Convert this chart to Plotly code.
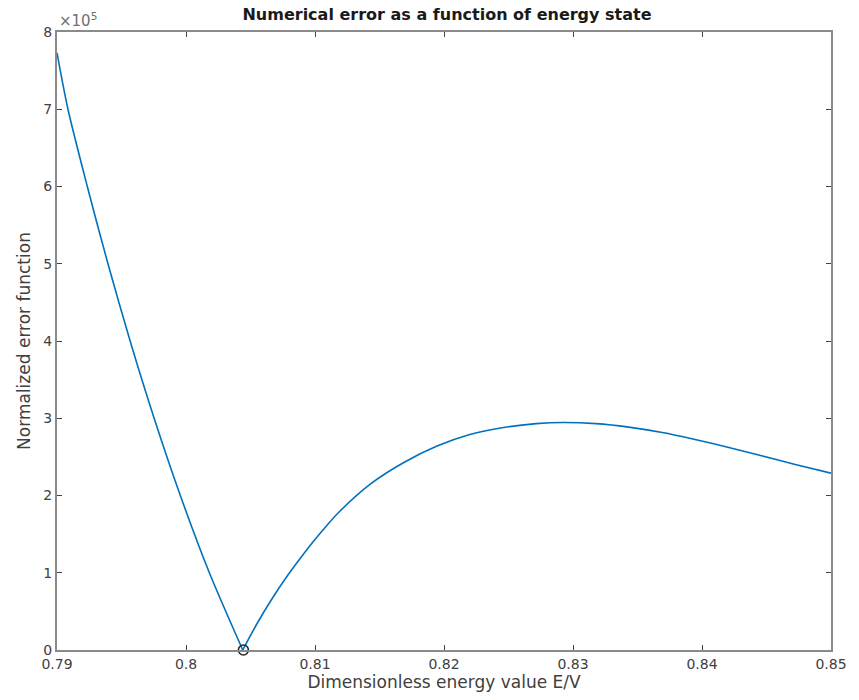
import plotly.graph_objects as go

# Left branch (falling) : energy E/V and normalized error in units of 1e5
energy_left = [0.7900, 0.79085, 0.79235, 0.79395, 0.79567, 0.79753,
               0.79956, 0.80181, 0.80440]
error_left = [7.73, 7.00, 6.00, 5.00, 4.00, 3.00, 2.00, 1.00, 0.00]

# Right branch (rising then falling)
energy_right = [0.80440, 0.80550, 0.80662, 0.80790, 0.80923, 0.81050,
                0.81177, 0.81431, 0.81692,
                0.81946, 0.82200, 0.82462, 0.82715, 0.82923, 0.83177,
                0.83431, 0.83692, 0.83946, 0.84200, 0.84462, 0.84715, 0.85000]
error_right = [0.00, 0.34, 0.65, 0.97, 1.27, 1.53, 1.77, 2.15, 2.43,
               2.64, 2.79, 2.88, 2.93, 2.945, 2.93, 2.885, 2.815, 2.725,
               2.625, 2.515, 2.405, 2.29]

min_energy = [0.80445]
min_error = [0.0]

x_ticks = [0.79, 0.80, 0.81, 0.82, 0.83, 0.84, 0.85]
x_ticktext = ["0.79", "0.8", "0.81", "0.82", "0.83", "0.84", "0.85"]
y_ticks = [0, 1, 2, 3, 4, 5, 6, 7, 8]
y_ticktext = [str(v) for v in y_ticks]

FONT = "DejaVu Sans"
TXT = "#404040"
LINE = dict(color="#0072BD", width=1.6, shape="spline", smoothing=0.8)

fig = go.Figure()
fig.add_trace(go.Scatter(x=energy_left, y=error_left, mode="lines",
                         line=LINE, showlegend=False, hoverinfo="skip"))
fig.add_trace(go.Scatter(x=energy_right, y=error_right, mode="lines",
                         line=LINE, showlegend=False, hoverinfo="skip"))
fig.add_trace(go.Scatter(x=min_energy, y=min_error, mode="markers",
                         marker=dict(symbol="circle-open", size=10,
                                     color="#262626", line=dict(width=1.6)),
                         showlegend=False, cliponaxis=False))

axis_common = dict(showline=True, mirror="ticks", linecolor="#8a8a8a",
                   linewidth=2, ticks="inside", ticklen=5, tickwidth=1,
                   tickcolor="#444444", showgrid=False, zeroline=False,
                   tickfont=dict(family=FONT, size=14, color=TXT))

fig.update_layout(
    width=859, height=700,
    margin=dict(l=57, r=22, t=32, b=50),
    paper_bgcolor="white", plot_bgcolor="white",
    title=dict(text="<b>Numerical error as a function of energy state</b>",
               x=447 / 859, xanchor="center", y=1 - 14 / 700,
               yanchor="middle",
               font=dict(family=FONT, size=16, color="#1a1a1a")),
    xaxis=dict(range=[0.79, 0.85], tickvals=x_ticks, ticktext=x_ticktext,
               title=dict(text="Dimensionless energy value E/V", standoff=4,
                          font=dict(family=FONT, size=17, color=TXT)),
               **axis_common),
    yaxis=dict(range=[0, 8], tickvals=y_ticks, ticktext=y_ticktext,
               title=dict(text="Normalized error function", standoff=8,
                          font=dict(family=FONT, size=17, color=TXT)),
               **axis_common),
)

fig.add_annotation(text="×10<sup>5</sup>", xref="paper", yref="paper",
                   x=0, y=1, xanchor="left", yanchor="bottom", yshift=0,
                   showarrow=False,
                   font=dict(family=FONT, size=15, color="#707070"))

fig.write_html("out.html")
